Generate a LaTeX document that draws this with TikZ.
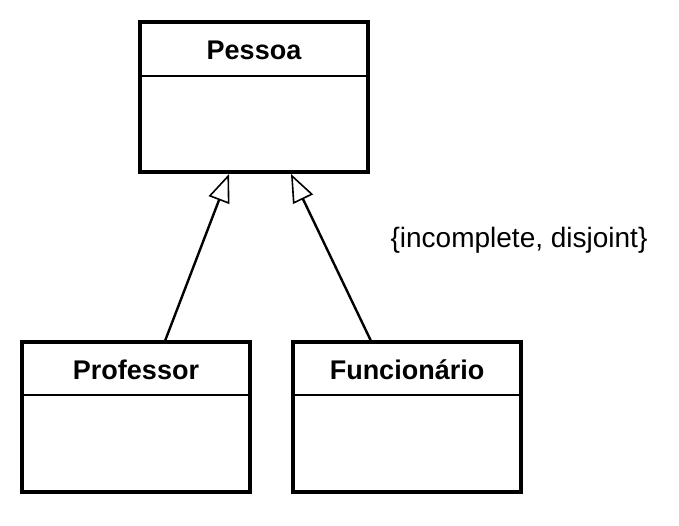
\documentclass[tikz,border=0pt]{standalone}
\usepackage{fontspec}
\setmainfont{Liberation Sans}
\usetikzlibrary{arrows.meta}
\begin{document}
\begin{tikzpicture}[x=1pt,y=-1pt,
  box/.style={draw,line width=3.2pt},
  sep/.style={line width=1.2pt},
  gen/.style={line width=2.4pt,-{Triangle[open,length=28pt,width=22pt,line width=1.6pt]}},
  ttl/.style={font=\bfseries\fontsize{27}{32}\selectfont}]
\useasboundingbox (0,0) rectangle (679,526);
\draw[box] (140,22) rectangle (368,172);
\draw[sep] (140,76) -- (368,76);
\node[ttl] (p) at (254,50) {Pessoa};
\coordinate (pt1) at (229,174);
\coordinate (pt2) at (291,174);
\draw[box] (22,342) rectangle (250,492);
\draw[sep] (22,395) -- (250,395);
\node[ttl] (pr) at (136,370) {Professor};
\coordinate (a1) at (165,341);
\draw[box] (293,342) rectangle (521,492);
\draw[sep] (293,395) -- (521,395);
\node[ttl] (f) at (407,370) {Funcionário};
\coordinate (a2) at (371,341);
\draw[gen] (a1) -- (pt1);
\draw[gen] (a2) -- (pt2);
\node[font=\fontsize{28}{32}\selectfont] (c) at (519,240) {\{incomplete, disjoint\}};
\end{tikzpicture}
\end{document}
